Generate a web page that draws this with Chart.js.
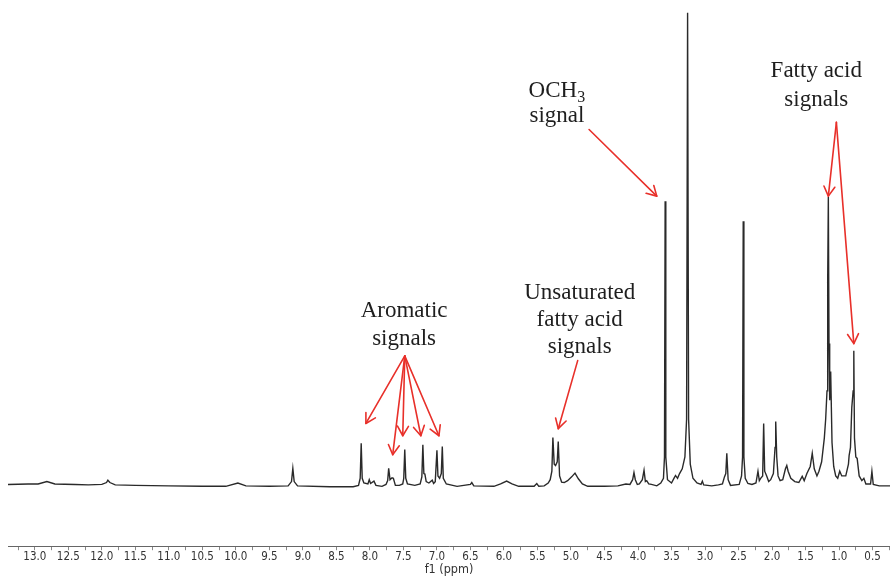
<!DOCTYPE html>
<html>
<head>
<meta charset="utf-8">
<script src="https://cdn.jsdelivr.net/npm/chart.js@4.4.1/dist/chart.umd.min.js"></script>
<style>
  html, body { margin: 0; padding: 0; background: #ffffff; }
  #wrap { width: 890px; height: 577px; position: relative; }
</style>
</head>
<body>
<div id="wrap"><canvas id="c"></canvas></div>
<script>
// ---- data (chemical shift in ppm, relative intensity, tallest peak = 100) ----
const shiftPpm = [
  13.40, 13.10, 12.95, 12.82, 12.70, 12.40, 12.20, 12.00, 11.93, 11.91, 11.88, 11.80,
  11.50, 11.00, 10.50, 10.15, 9.97, 9.85, 9.50, 9.22, 9.17, 9.15, 9.13, 9.08,
  8.60, 8.25, 8.17, 8.145, 8.13, 8.115, 8.09, 8.03, 8.01, 7.99, 7.94, 7.91,
  7.82, 7.76, 7.735, 7.72, 7.70, 7.67, 7.65, 7.62, 7.56, 7.51, 7.495, 7.48,
  7.465, 7.44, 7.33, 7.25, 7.225, 7.21, 7.195, 7.18, 7.16, 7.12, 7.07, 7.05,
  7.025, 7.00, 6.985, 6.96, 6.935, 6.92, 6.905, 6.86, 6.70, 6.50, 6.48, 6.45,
  6.15, 6.05, 5.96, 5.88, 5.78, 5.55, 5.51, 5.48, 5.40, 5.34, 5.31, 5.285,
  5.27, 5.25, 5.23, 5.205, 5.19, 5.17, 5.14, 5.10, 5.05, 4.99, 4.94, 4.89,
  4.83, 4.75, 4.50, 4.30, 4.18, 4.12, 4.08, 4.06, 4.04, 4.01, 3.98, 3.935,
  3.91, 3.89, 3.87, 3.84, 3.80, 3.72, 3.66, 3.62, 3.605, 3.595, 3.585, 3.56,
  3.50, 3.46, 3.44, 3.41, 3.38, 3.34, 3.30, 3.275, 3.26, 3.245, 3.22, 3.18,
  3.12, 3.06, 3.04, 3.02, 2.90, 2.80, 2.74, 2.71, 2.69, 2.675, 2.655, 2.62,
  2.49, 2.455, 2.44, 2.43, 2.42, 2.40, 2.36, 2.30, 2.24, 2.21, 2.19, 2.17,
  2.14, 2.125, 2.11, 2.08, 2.05, 2.02, 1.98, 1.955, 1.945, 1.93, 1.91, 1.88,
  1.84, 1.80, 1.78, 1.76, 1.72, 1.66, 1.60, 1.55, 1.52, 1.48, 1.43, 1.40,
  1.37, 1.33, 1.30, 1.26, 1.22, 1.20, 1.18, 1.17, 1.16, 1.15, 1.14, 1.125,
  1.105, 1.08, 1.05, 1.02, 0.99, 0.96, 0.90, 0.86, 0.85, 0.83, 0.81, 0.79,
  0.78, 0.77, 0.75, 0.73, 0.70, 0.66, 0.63, 0.60, 0.53, 0.51, 0.49, 0.40, 0.24
];
const intensity = [
  0.2, 0.3, 0.3, 0.8, 0.3, 0.2, 0.1, 0.2, 0.6, 1.1, 0.6, 0.1,
  0.0, -0.1, -0.2, -0.2, 0.5, -0.1, -0.2, -0.1, 0.8, 3.6, 0.8, -0.1,
  -0.3, -0.3, 0.0, 1.5, 8.9, 1.5, 0.5, 0.3, 1.2, 0.4, 0.9, 0.0,
  -0.2, 0.2, 1.0, 3.6, 1.2, 1.6, 1.5, 0.0, 0.0, 0.3, 1.5, 7.6,
  1.5, 0.3, 0.0, 0.3, 1.8, 8.6, 2.5, 2.4, 0.8, 0.5, 1.1, 0.4,
  0.8, 7.4, 2.0, 1.5, 2.5, 8.2, 1.5, 0.3, -0.2, 0.2, 0.6, -0.1,
  -0.2, 0.3, 0.9, 0.3, -0.2, -0.2, 0.4, -0.2, -0.1, 0.5, 1.2, 3.0,
  10.1, 4.5, 4.2, 5.0, 9.3, 2.0, 0.7, 0.6, 1.0, 1.8, 2.6, 1.4,
  0.3, -0.2, -0.2, -0.1, 0.3, 0.2, 1.2, 2.7, 1.2, 0.2, 0.3, 1.2,
  3.2, 0.8, 1.0, 0.3, 0.2, -0.1, 0.5, 1.5, 6.0, 60.1, 6.0, 1.2,
  0.5, 1.6, 2.1, 1.5, 2.5, 3.5, 6.0, 14.0, 100.0, 14.0, 4.5, 1.5,
  0.5, 0.2, 0.9, 0.1, -0.1, 0.1, 0.3, 1.8, 2.5, 6.8, 1.2, 0.0,
  0.2, 2.0, 6.0, 55.9, 6.0, 1.5, 0.4, 0.2, 0.5, 3.0, 1.0, 1.5,
  2.0, 13.1, 3.0, 2.0, 0.8, 1.2, 2.5, 8.0, 13.5, 6.0, 2.0, 1.0,
  1.2, 3.5, 4.2, 3.0, 1.5, 0.8, 0.6, 1.9, 1.0, 2.5, 4.0, 6.8,
  3.5, 2.0, 3.0, 5.0, 10.0, 14.0, 20.0, 43.0, 61.0, 30.0, 18.0, 24.1,
  9.0, 4.0, 2.0, 1.5, 3.0, 2.0, 2.0, 4.5, 6.3, 8.0, 16.5, 20.0,
  28.5, 10.0, 6.0, 5.7, 2.0, 1.0, 1.5, 0.3, 0.3, 3.0, 0.2, -0.1, -0.1
];
// labelled ticks (ppm) and unlabelled intermediate ticks
const majorTicks = [13.0, 12.5, 12.0, 11.5, 11.0, 10.5, 10.0, 9.5, 9.0, 8.5, 8.0, 7.5, 7.0,
                    6.5, 6.0, 5.5, 5.0, 4.5, 4.0, 3.5, 3.0, 2.5, 2.0, 1.5, 1.0, 0.5];
const minorTicks = [13.25, 12.75, 12.25, 11.75, 11.25, 10.75, 10.25, 9.75, 9.25, 8.75, 8.25, 7.75, 7.25,
                    6.75, 6.25, 5.75, 5.25, 4.75, 4.25, 3.75, 3.25, 2.75, 2.25, 1.75, 1.25, 0.75, 0.25];
const axisTitle = 'f1 (ppm)';

// ---- annotation text and arrows (anchored in data space: [ppm, intensity]) ----
const annotationTexts = [
  { text: 'Aromatic', at: [7.49, 36.9] },
  { text: 'signals', at: [7.49, 31.0] },
  { text: 'Unsaturated', at: [4.87, 40.7] },
  { text: 'fatty acid', at: [4.87, 35.0] },
  { text: 'signals', at: [4.87, 29.3] },
  { text: 'OCH', sub: '3', at: [5.21, 83.5] },
  { text: 'signal', at: [5.21, 78.1] },
  { text: 'Fatty acid', at: [1.34, 87.6] },
  { text: 'signals', at: [1.34, 81.6] }
];
const annotationArrows = [
  { from: [7.48, 27.4], to: [8.06, 13.1] },
  { from: [7.48, 27.4], to: [7.66, 6.5] },
  { from: [7.48, 27.4], to: [7.51, 10.5] },
  { from: [7.48, 27.4], to: [7.24, 10.5] },
  { from: [7.48, 27.4], to: [6.97, 10.5] },
  { from: [4.90, 26.4], to: [5.19, 12.0] },
  { from: [4.73, 75.3], to: [3.72, 61.2] },
  { from: [1.04, 76.8], to: [1.16, 61.2] },
  { from: [1.04, 76.8], to: [0.78, 30.0] }
];

const points = shiftPpm.map((p, i) => ({ x: p, y: intensity[i] }));

function drawArrow(ctx, x0, y0, x1, y1, head) {
  ctx.beginPath();
  ctx.moveTo(x0, y0);
  ctx.lineTo(x1, y1);
  ctx.stroke();
  const ang = Math.atan2(y1 - y0, x1 - x0);
  const spread = 0.52;
  ctx.beginPath();
  ctx.moveTo(x1 - head * Math.cos(ang - spread), y1 - head * Math.sin(ang - spread));
  ctx.lineTo(x1, y1);
  ctx.lineTo(x1 - head * Math.cos(ang + spread), y1 - head * Math.sin(ang + spread));
  ctx.stroke();
}

const annotationPlugin = {
  id: 'nmrAnnotations',
  afterDatasetsDraw(chart) {
    const ctx = chart.ctx;
    const xs = chart.scales.x, ys = chart.scales.y;
    ctx.save();
    ctx.strokeStyle = '#e8302a';
    ctx.lineWidth = 1.6;
    ctx.lineCap = 'round';
    ctx.lineJoin = 'round';
    annotationArrows.forEach(a => {
      drawArrow(ctx,
        xs.getPixelForValue(a.from[0]), ys.getPixelForValue(a.from[1]),
        xs.getPixelForValue(a.to[0]), ys.getPixelForValue(a.to[1]), 11);
    });
    ctx.fillStyle = '#1e1e1e';
    ctx.textBaseline = 'middle';
    const mainFont = '23px "Liberation Serif", "Times New Roman", serif';
    const subFont = '16px "Liberation Serif", "Times New Roman", serif';
    annotationTexts.forEach(t => {
      const cx = xs.getPixelForValue(t.at[0]);
      const cy = ys.getPixelForValue(t.at[1]);
      ctx.font = mainFont;
      const w = ctx.measureText(t.text).width;
      let sw = 0;
      if (t.sub) { ctx.font = subFont; sw = ctx.measureText(t.sub).width; }
      const left = cx - (w + sw) / 2;
      ctx.font = mainFont;
      ctx.textAlign = 'left';
      ctx.fillText(t.text, left, cy);
      if (t.sub) {
        ctx.font = subFont;
        ctx.fillText(t.sub, left + w, cy + 7);
      }
    });
    ctx.restore();
  }
};

new Chart(document.getElementById('c'), {
  type: 'line',
  data: {
    datasets: [{
      data: points,
      borderColor: '#2a2a2a',
      borderWidth: 1.4,
      pointRadius: 0,
      tension: 0,
      fill: false
    }]
  },
  options: {
    responsive: true,
    maintainAspectRatio: false,
    animation: false,
    devicePixelRatio: 1,
    layout: { padding: { left: 8, right: 0, top: 0, bottom: 0 } },
    plugins: { legend: { display: false }, tooltip: { enabled: false } },
    scales: {
      x: {
        type: 'linear',
        reverse: true,
        min: 0.24,
        max: 13.4,
        afterBuildTicks: (scale) => {
          scale.ticks = majorTicks.concat(minorTicks).sort((a, b) => b - a).map(v => ({ value: v }));
        },
        ticks: {
          autoSkip: false,
          maxRotation: 0,
          minRotation: 0,
          padding: 0,
          color: '#333333',
          font: { family: '"DejaVu Sans Condensed", "DejaVu Sans", sans-serif', size: 11.5 },
          callback: (v) => majorTicks.includes(v) ? v.toFixed(1) : ''
        },
        grid: { drawOnChartArea: false, drawTicks: true, tickLength: 4, color: '#888888' },
        border: { display: true, color: '#666666', width: 1 },
        title: {
          display: true,
          text: axisTitle,
          color: '#333333',
          font: { family: '"DejaVu Sans Condensed", "DejaVu Sans", sans-serif', size: 12.5 },
          padding: { top: -2, bottom: 0 }
        }
      },
      y: {
        display: false,
        min: -12.87,
        max: 102.7
      }
    }
  },
  plugins: [annotationPlugin]
});
</script>
</body>
</html>
